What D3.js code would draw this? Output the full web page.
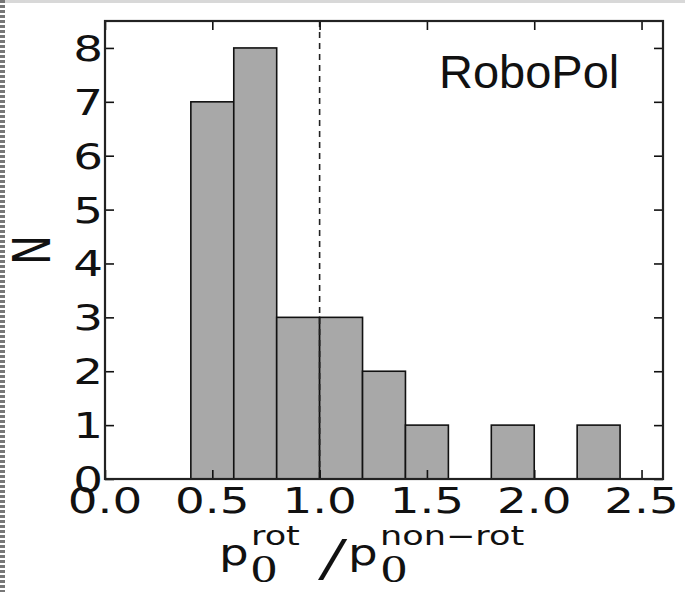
<!DOCTYPE html>
<html>
<head>
<meta charset="utf-8">
<script src="https://cdn.jsdelivr.net/npm/d3@7"></script>
<style>
  html, body { margin: 0; padding: 0; background: #fff; }
  svg { display: block; }
</style>
</head>
<body>
<svg id="chart" width="685" height="592"></svg>
<script>
// Histogram of polarization-degree ratio, bins of width 0.2
const binLeft  = [0.4, 0.6, 0.8, 1.0, 1.2, 1.4, 1.6, 1.8, 2.0, 2.2];
const binRight = [0.6, 0.8, 1.0, 1.2, 1.4, 1.6, 1.8, 2.0, 2.2, 2.4];
const counts   = [7, 8, 3, 3, 2, 1, 0, 1, 0, 1];
const xTicks = [0.0, 0.5, 1.0, 1.5, 2.0, 2.5];
const xTickLabels = ["0.0", "0.5", "1.0", "1.5", "2.0", "2.5"];
const yTicks = [0, 1, 2, 3, 4, 5, 6, 7, 8];
const refLine = 1.0;
const panelLabel = "RoboPol";

const svg = d3.select("#chart");
const W = 685, H = 592;
const plot = { left: 105, right: 663, top: 21, bottom: 479 };
const SX = 1.3;          // horizontal stretch of the sans text
const ink = "#111";

const x = d3.scaleLinear().domain([0, 2.6]).range([plot.left, plot.right]);
const y = d3.scaleLinear().domain([0, 8.5]).range([plot.bottom, plot.top]);

// page edge marks
svg.append("rect").attr("x", 0).attr("y", 0).attr("width", W).attr("height", 3)
  .attr("fill", "#d8d8d8");
svg.append("line").attr("x1", 2.5).attr("x2", 2.5).attr("y1", 0).attr("y2", H)
  .attr("stroke", "#777").attr("stroke-width", 5).attr("stroke-dasharray", "3,2");

// bars
const bins = binLeft.map((l, i) => ({ l, r: binRight[i], n: counts[i] })).filter(d => d.n > 0);
svg.append("g").selectAll("rect").data(bins).join("rect")
  .attr("x", d => x(d.l))
  .attr("width", d => x(d.r) - x(d.l))
  .attr("y", d => y(d.n))
  .attr("height", d => y(0) - y(d.n))
  .attr("fill", "#a8a8a8")
  .attr("stroke", ink)
  .attr("stroke-width", 1.6);

// reference line
svg.append("line")
  .attr("x1", x(refLine)).attr("x2", x(refLine))
  .attr("y1", plot.top).attr("y2", plot.bottom)
  .attr("stroke", "#222").attr("stroke-width", 1.6)
  .attr("stroke-dasharray", "6,5");

// inward ticks on all four sides
const tickLen = 9;
const bottomAxis = d3.axisBottom(x).tickValues(xTicks).tickSize(-tickLen).tickFormat("");
const topAxis = d3.axisTop(x).tickValues(xTicks).tickSize(-tickLen).tickFormat("");
const leftAxis = d3.axisLeft(y).tickValues(yTicks).tickSize(-tickLen).tickFormat("");
const rightAxis = d3.axisRight(y).tickValues(yTicks).tickSize(-tickLen).tickFormat("");
function styleAxis(g) {
  g.select(".domain").remove();
  g.selectAll(".tick line").attr("stroke", ink).attr("stroke-width", 1.6);
}
svg.append("g").attr("transform", `translate(0,${plot.bottom})`).call(bottomAxis).call(styleAxis);
svg.append("g").attr("transform", `translate(0,${plot.top})`).call(topAxis).call(styleAxis);
svg.append("g").attr("transform", `translate(${plot.left},0)`).call(leftAxis).call(styleAxis);
svg.append("g").attr("transform", `translate(${plot.right},0)`).call(rightAxis).call(styleAxis);

// frame
svg.append("rect")
  .attr("x", plot.left).attr("y", plot.top)
  .attr("width", plot.right - plot.left).attr("height", plot.bottom - plot.top)
  .attr("fill", "none").attr("stroke", "#222").attr("stroke-width", 2.2);

const sans = "'DejaVu Sans', sans-serif";

// x tick labels
svg.append("g").selectAll("text").data(xTicks).join("text")
  .attr("transform", d => `translate(${x(d)},513) scale(${SX},1)`)
  .attr("text-anchor", "middle")
  .attr("font-family", sans).attr("font-size", 36).attr("fill", ink)
  .text((d, i) => xTickLabels[i]);

// y tick labels
svg.append("g").selectAll("text").data(yTicks).join("text")
  .attr("transform", d => `translate(103,${y(d) + 13}) scale(${SX},1)`)
  .attr("text-anchor", "end")
  .attr("font-family", sans).attr("font-size", 36).attr("fill", ink)
  .text(d => d);

// y axis title
svg.append("text")
  .attr("transform", `translate(50,250) scale(${SX},1) rotate(-90)`)
  .attr("text-anchor", "middle")
  .attr("font-family", sans).attr("font-size", 40).attr("fill", ink)
  .text("N");

// x axis title: p0^rot / p0^non-rot
const xl = svg.append("g").attr("fill", ink);
function put(tx, ty, str, size, family, sx) {
  xl.append("text")
    .attr("transform", `translate(${tx},${ty}) scale(${sx || SX},1)`)
    .attr("font-family", family).attr("font-size", size)
    .text(str);
}
const serif = "'Liberation Serif', 'DejaVu Serif', serif";
put(219, 565, "p", 36, sans);
put(251, 582, "0", 40, serif);
put(251, 545, "rot", 27, sans);
put(318, 579, "/", 62, serif, 1.7);
put(348, 565, "p", 36, sans);
put(381, 582, "0", 40, serif);
put(380, 545, "non\u2212rot", 27, sans);

// panel label
svg.append("text")
  .attr("x", 439).attr("y", 88)
  .attr("font-family", "'Liberation Sans', Arial, sans-serif")
  .attr("font-size", 47).attr("fill", ink)
  .text(panelLabel);
</script>
</body>
</html>
